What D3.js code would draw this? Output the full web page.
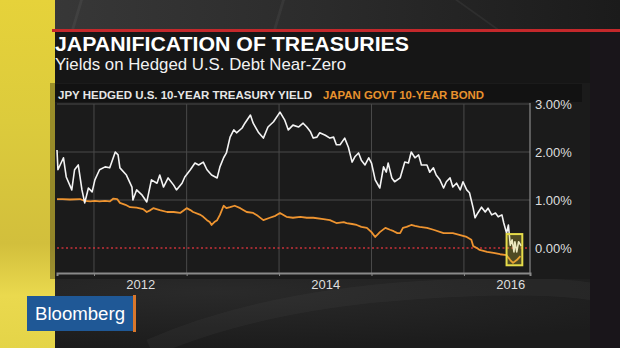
<!DOCTYPE html>
<html>
<head>
<meta charset="utf-8">
<script src="https://cdn.jsdelivr.net/npm/d3@7/dist/d3.min.js"></script>
<style>
  html, body { margin: 0; padding: 0; background: #1d1d1d; }
  svg { display: block; }
  text { font-family: "Liberation Sans", Arial, sans-serif; }
</style>
</head>
<body>
<svg id="chart" width="620" height="348"></svg>
<script>
// JPY-hedged U.S. 10-year Treasury yield (%), sampled by fractional year
const hedgedT = [
  2011.60, 2011.61, 2011.67, 2011.70, 2011.76, 2011.79, 2011.83, 2011.87, 2011.90, 2011.94,
  2011.98, 2012.01, 2012.06, 2012.12, 2012.17, 2012.23, 2012.26, 2012.28, 2012.35, 2012.41,
  2012.42, 2012.46, 2012.52, 2012.57, 2012.62, 2012.68, 2012.71, 2012.75, 2012.80, 2012.86,
  2012.89, 2012.95, 2012.98, 2013.04, 2013.09, 2013.13, 2013.18, 2013.22, 2013.27, 2013.33,
  2013.36, 2013.40, 2013.43, 2013.47, 2013.51, 2013.54, 2013.60, 2013.63, 2013.69, 2013.72,
  2013.78, 2013.83, 2013.88, 2013.94, 2014.01, 2014.06, 2014.10, 2014.15, 2014.21, 2014.26,
  2014.30, 2014.34, 2014.37, 2014.41, 2014.44, 2014.50, 2014.55, 2014.59, 2014.62, 2014.66,
  2014.71, 2014.75, 2014.79, 2014.82, 2014.86, 2014.89, 2014.93, 2014.97, 2015.00, 2015.04,
  2015.09, 2015.13, 2015.16, 2015.18, 2015.22, 2015.25, 2015.31, 2015.36, 2015.40, 2015.43,
  2015.47, 2015.51, 2015.54, 2015.60, 2015.63, 2015.67, 2015.70, 2015.74, 2015.78, 2015.81,
  2015.85, 2015.88, 2015.92, 2015.96, 2015.99, 2016.03, 2016.06, 2016.10, 2016.12, 2016.15,
  2016.19, 2016.23, 2016.26, 2016.30, 2016.34, 2016.37, 2016.41, 2016.43, 2016.46, 2016.48,
  2016.50, 2016.52, 2016.54, 2016.55, 2016.57, 2016.59, 2016.62
];
const hedgedYield = [
  2.04, 1.63, 1.88, 1.48, 1.21, 1.63, 1.73, 1.21, 0.94, 1.25,
  1.17, 1.42, 1.63, 1.69, 1.67, 2.00, 1.94, 1.67, 1.52, 1.27,
  1.00, 1.21, 1.10, 0.96, 1.42, 1.35, 1.52, 1.27, 1.46, 1.31,
  1.21, 1.35, 1.48, 1.63, 1.77, 1.73, 1.79, 1.63, 1.52, 1.46,
  1.69, 1.88, 1.98, 2.31, 2.46, 2.40, 2.50, 2.60, 2.77, 2.60,
  2.40, 2.29, 2.52, 2.63, 2.83, 2.67, 2.46, 2.56, 2.52, 2.60,
  2.52, 2.42, 2.29, 2.31, 2.40, 2.35, 2.29, 2.31, 2.15, 2.15,
  2.29, 2.10, 1.79, 1.90, 1.98, 1.83, 1.73, 1.88, 1.77, 1.42,
  1.25, 1.69, 1.58, 1.77, 1.46, 1.38, 1.46, 1.79, 1.77, 2.00,
  1.88, 1.94, 1.73, 1.73, 1.58, 1.67, 1.52, 1.42, 1.25, 1.38,
  1.46, 1.27, 1.35, 1.21, 1.38, 1.21, 1.15, 0.83, 0.63, 0.73,
  0.85, 0.75, 0.83, 0.69, 0.73, 0.65, 0.69, 0.52, 0.31, 0.48,
  0.06, 0.17, -0.08, 0.13, -0.08, 0.13, 0.04
];

// Japan government 10-year bond yield (%)
const jgbT = [
  2011.60, 2011.66, 2011.74, 2011.85, 2011.90, 2011.96, 2012.01, 2012.06, 2012.12, 2012.17,
  2012.21, 2012.25, 2012.28, 2012.34, 2012.39, 2012.46, 2012.53, 2012.57, 2012.61, 2012.64,
  2012.71, 2012.79, 2012.86, 2012.93, 2013.00, 2013.04, 2013.07, 2013.15, 2013.18, 2013.22,
  2013.25, 2013.27, 2013.30, 2013.33, 2013.36, 2013.40, 2013.43, 2013.47, 2013.52, 2013.58,
  2013.65, 2013.72, 2013.77, 2013.83, 2013.90, 2013.96, 2014.01, 2014.08, 2014.15, 2014.23,
  2014.30, 2014.37, 2014.48, 2014.55, 2014.62, 2014.70, 2014.73, 2014.79, 2014.84, 2014.89,
  2014.95, 2015.00, 2015.04, 2015.07, 2015.09, 2015.15, 2015.20, 2015.24, 2015.28, 2015.31,
  2015.34, 2015.38, 2015.43, 2015.47, 2015.52, 2015.60, 2015.67, 2015.78, 2015.88, 2015.96,
  2016.03, 2016.08, 2016.10, 2016.14, 2016.17, 2016.25, 2016.32, 2016.39, 2016.46, 2016.50,
  2016.53, 2016.57, 2016.61
];
const jgbYield = [
  1.02, 1.02, 1.01, 1.02, 0.98, 0.97, 0.98, 0.97, 0.98, 0.97,
  1.03, 1.02, 0.94, 0.90, 0.85, 0.84, 0.81, 0.75, 0.79, 0.83,
  0.79, 0.75, 0.75, 0.73, 0.83, 0.79, 0.75, 0.69, 0.65, 0.58,
  0.54, 0.48, 0.54, 0.58, 0.69, 0.88, 0.83, 0.85, 0.88, 0.83,
  0.75, 0.73, 0.67, 0.58, 0.63, 0.67, 0.73, 0.65, 0.63, 0.65,
  0.63, 0.63, 0.60, 0.58, 0.52, 0.54, 0.52, 0.50, 0.48, 0.44,
  0.42, 0.33, 0.23, 0.29, 0.33, 0.42, 0.38, 0.35, 0.31, 0.31,
  0.42, 0.44, 0.48, 0.46, 0.44, 0.42, 0.38, 0.31, 0.31, 0.27,
  0.23, 0.17, 0.04, 0.00, -0.04, -0.08, -0.10, -0.13, -0.15, -0.25,
  -0.31, -0.25, -0.17
];

const yTicks = [0, 1, 2, 3];
const gridYears = [2012, 2013, 2014, 2015, 2016];
const yearLabels = [2012, 2014, 2016];
const highlight = { start: 2016.46, end: 2016.63, top: 0.29, bottom: -0.36 };

const titleText = "JAPANIFICATION OF TREASURIES";
const subtitleText = "Yields on Hedged U.S. Debt Near-Zero";
const seriesNames = ["JPY HEDGED U.S. 10-YEAR TREASURY YIELD", "JAPAN GOVT 10-YEAR BOND"];

function yearToDate(t) {
  const y = Math.floor(t);
  const s = Date.UTC(y, 0, 1), e = Date.UTC(y + 1, 0, 1);
  return new Date(s + (t - y) * (e - s));
}

const svg = d3.select("#chart");
const defs = svg.append("defs");

// ---- backdrop ----
const topGrad = defs.append("linearGradient").attr("id", "topGrad").attr("x1", 0).attr("x2", 1);
topGrad.append("stop").attr("offset", 0).attr("stop-color", "#3a3a3a");
topGrad.append("stop").attr("offset", 0.5).attr("stop-color", "#2c2c2c");
topGrad.append("stop").attr("offset", 1).attr("stop-color", "#1b1b1b");

const yellowGrad = defs.append("linearGradient").attr("id", "yellowGrad")
  .attr("x1", 0).attr("x2", 0).attr("y1", 0).attr("y2", 1);
yellowGrad.append("stop").attr("offset", 0).attr("stop-color", "#e6d23a");
yellowGrad.append("stop").attr("offset", 0.35).attr("stop-color", "#dccb3c");
yellowGrad.append("stop").attr("offset", 0.7).attr("stop-color", "#d2bf3c");
yellowGrad.append("stop").attr("offset", 0.85).attr("stop-color", "#ead94e");
yellowGrad.append("stop").attr("offset", 1).attr("stop-color", "#e4d448");

const botGrad = defs.append("radialGradient").attr("id", "botGrad")
  .attr("cx", 0.35).attr("cy", 0.2).attr("r", 0.8);
botGrad.append("stop").attr("offset", 0).attr("stop-color", "#2a2a2a");
botGrad.append("stop").attr("offset", 1).attr("stop-color", "#1c1c1c");

svg.append("rect").attr("width", 620).attr("height", 348).attr("fill", "#1d1d1d");
svg.append("rect").attr("width", 620).attr("height", 30).attr("fill", "url(#topGrad)");
// faint diagonal streaks in the top band
[[80, 74], [282, 276], [455, 500]].forEach(([b, d]) => {
  svg.append("polygon")
    .attr("points", `${b},0 ${b + 3},0 ${d},30 ${d - 3},30`)
    .attr("fill", "#ffffff").attr("opacity", 0.05);
});
svg.append("rect").attr("x", 0).attr("y", 278).attr("width", 620).attr("height", 70).attr("fill", "url(#botGrad)");
svg.append("path").attr("d", "M150,348 Q260,300 420,290 T620,300")
  .attr("fill", "none").attr("stroke", "#ffffff").attr("stroke-opacity", 0.03).attr("stroke-width", 18);
svg.append("rect").attr("x", 590).attr("y", 32).attr("width", 30).attr("height", 316).attr("fill", "#19151a");
svg.append("rect").attr("x", 52).attr("y", 32).attr("width", 538).attr("height", 51).attr("fill", "#161616");
svg.append("rect").attr("x", 55).attr("y", 83).attr("width", 535).attr("height", 196).attr("fill", "#1b1b1b");
svg.append("rect").attr("x", 55).attr("y", 84).attr("width", 527).attr("height", 18).attr("fill", "#121212");
svg.append("rect").attr("x", 0).attr("y", 0).attr("width", 55).attr("height", 348).attr("fill", "url(#yellowGrad)");
svg.append("rect").attr("x", 50).attr("y", 83).attr("width", 5).attr("height", 196).attr("fill", "#000").attr("opacity", 0.3);
svg.append("rect").attr("x", 52).attr("y", 29).attr("width", 568).attr("height", 3).attr("fill", "#c4282b");

// ---- header ----
svg.append("text").attr("x", 55).attr("y", 51)
  .attr("font-size", 21).attr("font-weight", 700).attr("fill", "#ffffff")
  .attr("textLength", 354).attr("lengthAdjust", "spacingAndGlyphs")
  .text(titleText);
svg.append("text").attr("x", 55).attr("y", 70)
  .attr("font-size", 17).attr("fill", "#f2f2f2")
  .attr("textLength", 291).attr("lengthAdjust", "spacingAndGlyphs")
  .text(subtitleText);

// ---- legend ----
svg.append("text").attr("x", 58).attr("y", 98.5)
  .attr("font-size", 11.5).attr("font-weight", 700).attr("fill", "#e6e6e6")
  .attr("textLength", 254).attr("lengthAdjust", "spacingAndGlyphs")
  .text(seriesNames[0]);
svg.append("text").attr("x", 323).attr("y", 98.5)
  .attr("font-size", 11.5).attr("font-weight", 700).attr("fill", "#e8922e")
  .attr("textLength", 161).attr("lengthAdjust", "spacingAndGlyphs")
  .text(seriesNames[1]);

// ---- scales ----
const plot = { left: 57, right: 530, top: 104, bottom: 273 };
const x = d3.scaleTime()
  .domain([yearToDate(2011.6), yearToDate(2016.713)])
  .range([plot.left, plot.right]);
const y = d3.scaleLinear()
  .domain([-0.5208, 3])
  .range([plot.bottom, plot.top]);

const g = svg.append("g");

// gridlines
g.selectAll(".hgrid").data(yTicks.filter(v => v > 0)).join("line")
  .attr("x1", plot.left).attr("x2", plot.right)
  .attr("y1", d => y(d)).attr("y2", d => y(d))
  .attr("stroke", "#4a4a4a").attr("stroke-width", 1);
g.selectAll(".vgrid").data(gridYears).join("line")
  .attr("x1", d => x(yearToDate(d))).attr("x2", d => x(yearToDate(d)))
  .attr("y1", plot.top).attr("y2", plot.bottom)
  .attr("stroke", "#4a4a4a").attr("stroke-width", 1);
g.append("line").attr("x1", plot.right).attr("x2", plot.right)
  .attr("y1", plot.top - 1).attr("y2", plot.bottom)
  .attr("stroke", "#8a8a8a").attr("stroke-width", 1.2);

// zero line
g.append("line").attr("x1", plot.left).attr("x2", plot.right)
  .attr("y1", y(0)).attr("y2", y(0))
  .attr("stroke", "#c8323a").attr("stroke-width", 1.4).attr("stroke-dasharray", "2,2.5");

// series
const line = d3.line().x(d => x(d[0])).y(d => y(d[1]));
const jgbData = jgbT.map((t, i) => [yearToDate(t), jgbYield[i]]);
const hedgedData = hedgedT.map((t, i) => [yearToDate(t), hedgedYield[i]]);
g.append("path").datum(jgbData).attr("d", line)
  .attr("fill", "none").attr("stroke", "#ee9430").attr("stroke-width", 1.8).attr("stroke-linejoin", "round");
g.append("path").datum(hedgedData).attr("d", line)
  .attr("fill", "none").attr("stroke", "#f4f4f4").attr("stroke-width", 1.6).attr("stroke-linejoin", "round");

// highlight box around the latest readings
g.append("rect")
  .attr("x", x(yearToDate(highlight.start)))
  .attr("y", y(highlight.top))
  .attr("width", x(yearToDate(highlight.end)) - x(yearToDate(highlight.start)))
  .attr("height", y(highlight.bottom) - y(highlight.top))
  .attr("fill", "#d8c83a").attr("fill-opacity", 0.28)
  .attr("stroke", "#e6dc4a").attr("stroke-width", 2);

// bottom axis
const xAxis = d3.axisBottom(x)
  .tickValues(gridYears.map(yearToDate))
  .tickSize(3).tickFormat("");
const xg = g.append("g").attr("transform", `translate(0,${plot.bottom})`).call(xAxis);
xg.select(".domain").attr("stroke", "#8a8a8a").attr("stroke-width", 2);
xg.selectAll(".tick line").attr("stroke", "#8a8a8a");

const xLab = d3.axisBottom(x)
  .tickValues(yearLabels.map(v => yearToDate(v + 0.5)))
  .tickSize(0).tickPadding(7)
  .tickFormat(d => d.getUTCFullYear());
const xl = g.append("g").attr("transform", `translate(0,${plot.bottom})`).call(xLab);
xl.select(".domain").remove();
xl.selectAll("text").attr("font-size", 13).attr("fill", "#dedede")
  .attr("font-family", "Liberation Sans, Arial, sans-serif");

// right axis labels
const yAxis = d3.axisRight(y).tickValues(yTicks).tickSize(0).tickPadding(5)
  .tickFormat(d => d3.format(".2f")(d) + "%");
const yg = g.append("g").attr("transform", `translate(${plot.right},0)`).call(yAxis);
yg.select(".domain").remove();
yg.selectAll("text").attr("font-size", 13).attr("fill", "#dedede")
  .attr("font-family", "Liberation Sans, Arial, sans-serif");

// ---- logo ----
svg.append("rect").attr("x", 27).attr("y", 296).attr("width", 106).attr("height", 35).attr("fill", "#1f5896");
svg.append("rect").attr("x", 133).attr("y", 295).attr("width", 3).attr("height", 37).attr("fill", "#d8772c");
svg.append("text").attr("x", 80).attr("y", 320)
  .attr("text-anchor", "middle")
  .attr("font-family", "'Open Sans', 'Noto Sans', sans-serif")
  .attr("font-size", 18).attr("fill", "#ffffff")
  .attr("textLength", 90).attr("lengthAdjust", "spacingAndGlyphs")
  .text("Bloomberg");
</script>
</body>
</html>
